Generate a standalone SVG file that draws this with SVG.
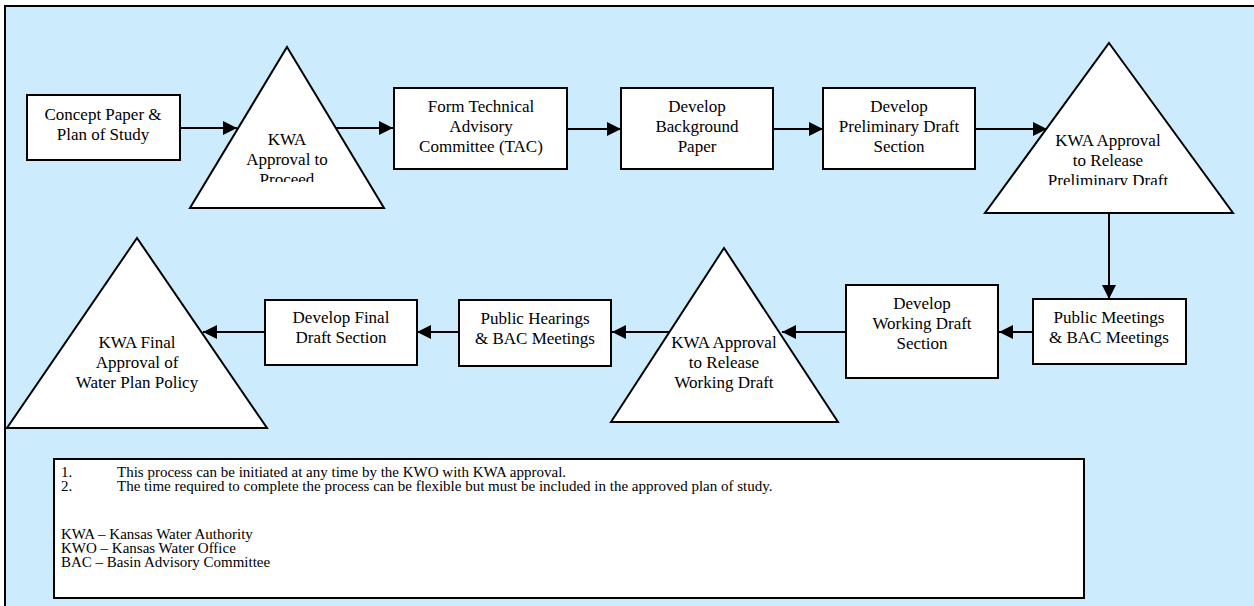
<svg xmlns="http://www.w3.org/2000/svg" width="1254" height="606" viewBox="0 0 1254 606">
<style>
.box{fill:#fff;stroke:#000;stroke-width:2}
.tri{fill:#fff;stroke:#000;stroke-width:2;stroke-linejoin:miter}
.t{font-family:"Liberation Serif","Tinos","DejaVu Serif","Noto Serif",serif;font-size:17px;fill:#000;text-anchor:middle}
.n{font-family:"Liberation Serif","Tinos","DejaVu Serif","Noto Serif",serif;font-size:15px;fill:#000}
.c{stroke:#000;stroke-width:2;fill:none;marker-end:url(#ah)}
</style>
<defs>
<marker id="ah" viewBox="0 0 14 14" refX="14" refY="7" markerWidth="14" markerHeight="14" markerUnits="userSpaceOnUse" orient="auto">
<path d="M0,0 L14,7 L0,14 Z" fill="#000"/>
</marker>
<clipPath id="clip1"><rect x="230" y="120" width="115" height="62"/></clipPath>
<clipPath id="clip2"><rect x="1030" y="120" width="160" height="65"/></clipPath>
</defs>
<rect x="5" y="6" width="1270" height="620" fill="#CCEBFC" stroke="#000" stroke-width="2"/>

<g id="connectors">
<line class="c" x1="180" y1="128" x2="237" y2="128"/>
<line class="c" x1="336" y1="128" x2="393" y2="128"/>
<line class="c" x1="567" y1="129" x2="621" y2="129"/>
<line class="c" x1="773" y1="129" x2="823" y2="129"/>
<line class="c" x1="975" y1="129" x2="1047" y2="129"/>
<line class="c" x1="1109" y1="213" x2="1109" y2="299"/>
<line class="c" x1="1033" y1="332" x2="999" y2="332"/>
<line class="c" x1="846" y1="332" x2="782" y2="332"/>
<line class="c" x1="669" y1="332" x2="612" y2="332"/>
<line class="c" x1="459" y1="332" x2="417" y2="332"/>
<line class="c" x1="265" y1="332" x2="203" y2="332"/>
</g>

<g id="concept">
<rect class="box" x="27" y="95" width="153" height="65"/>
<text class="t" x="103" y="120">Concept Paper &amp;</text>
<text class="t" x="103" y="140">Plan of Study</text>
</g>

<g id="kwa-proceed">
<polygon class="tri" points="287,47 384,208 190,208"/>
<g clip-path="url(#clip1)">
<text class="t" x="287" y="145">KWA</text>
<text class="t" x="287" y="165">Approval to</text>
<text class="t" x="287" y="185">Proceed</text>
</g>
</g>

<g id="tac">
<rect class="box" x="394" y="88" width="173" height="81"/>
<text class="t" x="481" y="112">Form Technical</text>
<text class="t" x="481" y="132">Advisory</text>
<text class="t" x="481" y="152">Committee (TAC)</text>
</g>

<g id="background">
<rect class="box" x="621" y="88" width="152" height="81"/>
<text class="t" x="697" y="112">Develop</text>
<text class="t" x="697" y="132">Background</text>
<text class="t" x="697" y="152">Paper</text>
</g>

<g id="prelim-draft">
<rect class="box" x="823" y="88" width="152" height="81"/>
<text class="t" x="899" y="112">Develop</text>
<text class="t" x="899" y="132">Preliminary Draft</text>
<text class="t" x="899" y="152">Section</text>
</g>

<g id="kwa-prelim">
<polygon class="tri" points="1109,43 1233,213 985,213"/>
<g clip-path="url(#clip2)">
<text class="t" x="1108" y="146">KWA Approval</text>
<text class="t" x="1108" y="166">to Release</text>
<text class="t" x="1108" y="186">Preliminary Draft</text>
</g>
</g>

<g id="public-meetings">
<rect class="box" x="1033" y="299" width="153" height="65"/>
<text class="t" x="1109" y="323">Public Meetings</text>
<text class="t" x="1109" y="343">&amp; BAC Meetings</text>
</g>

<g id="working-draft">
<rect class="box" x="846" y="285" width="152" height="93"/>
<text class="t" x="922" y="309">Develop</text>
<text class="t" x="922" y="329">Working Draft</text>
<text class="t" x="922" y="349">Section</text>
</g>

<g id="kwa-working">
<polygon class="tri" points="724,248 838,422 611,422"/>
<text class="t" x="724" y="348">KWA Approval</text>
<text class="t" x="724" y="368">to Release</text>
<text class="t" x="724" y="388">Working Draft</text>
</g>

<g id="public-hearings">
<rect class="box" x="459" y="300" width="152" height="66"/>
<text class="t" x="535" y="324">Public Hearings</text>
<text class="t" x="535" y="344">&amp; BAC Meetings</text>
</g>

<g id="final-draft">
<rect class="box" x="265" y="300" width="152" height="65"/>
<text class="t" x="341" y="323">Develop Final</text>
<text class="t" x="341" y="343">Draft Section</text>
</g>

<g id="kwa-final">
<polygon class="tri" points="137,238 267,428 7,428"/>
<text class="t" x="137" y="348">KWA Final</text>
<text class="t" x="137" y="368">Approval of</text>
<text class="t" x="137" y="388">Water Plan Policy</text>
</g>

<g id="notes">
<rect class="box" x="54" y="459" width="1030" height="139"/>
<text class="n" x="61" y="477">1.</text>
<text class="n" x="117" y="477">This process can be initiated at any time by the KWO with KWA approval.</text>
<text class="n" x="61" y="491">2.</text>
<text class="n" x="117" y="491">The time required to complete the process can be flexible but must be included in the approved plan of study.</text>
<text class="n" x="61" y="539">KWA – Kansas Water Authority</text>
<text class="n" x="61" y="553">KWO – Kansas Water Office</text>
<text class="n" x="61" y="567">BAC – Basin Advisory Committee</text>
</g>
</svg>
